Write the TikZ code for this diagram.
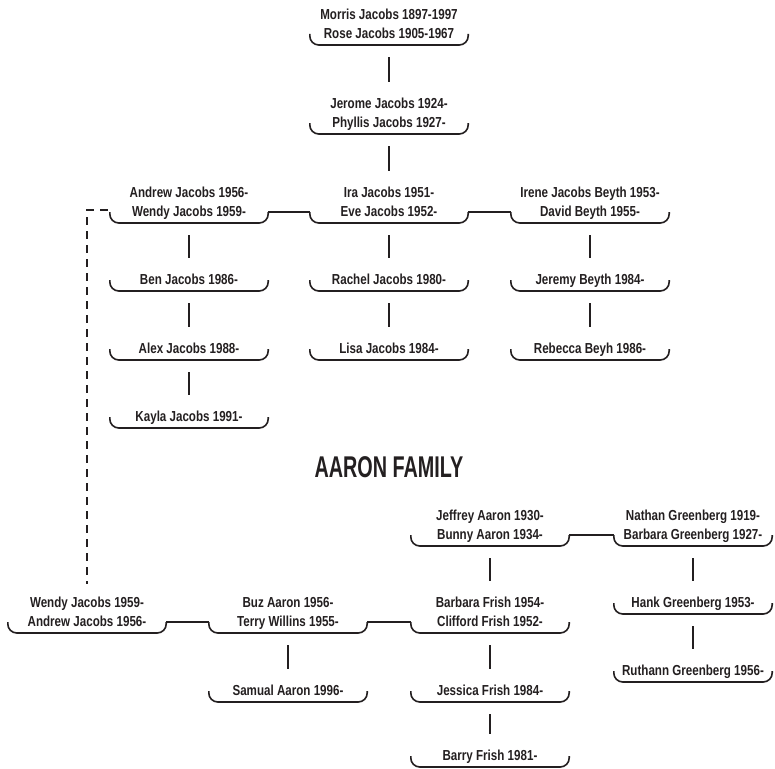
\documentclass[tikz,border=0pt]{standalone}
\usepackage{fontspec}
\setmainfont{Liberation Sans}[FakeStretch=0.8,UprightFont=* Bold]
\newfontfamily\titlefont{Liberation Sans Bold}[FakeStretch=0.66]
\usetikzlibrary{positioning}
\definecolor{TreeInk}{HTML}{231F20}

\begin{document}
\begin{tikzpicture}[
        x=1pt, y=1pt,
        font=\fontsize{14.5}{19}\selectfont,
        text=TreeInk,
        link/.style={draw=TreeInk, line width=1.6pt},
        person/.style={anchor=south, align=center, minimum width=158pt,
          inner xsep=0pt, inner ysep=3pt, text depth=3pt,
          append after command={\pgfextra{\let\pnode=\tikzlastnode
            \draw[link, rounded corners=9pt] ([yshift=11pt]\pnode.south west)
              |- (\pnode.south east) -- ([yshift=11pt]\pnode.south east);}}},
        child/.style={link, shorten <=12pt, shorten >=13pt},
        spouse/.style={link}
      ]
        \useasboundingbox (0,0) rectangle (775,-768);
        % Jacobs family
        \node[person] (morris) at (389,-45) {Morris Jacobs 1897-1997\\Rose Jacobs 1905-1967};
        \node[person] (jerome) at (389,-134) {Jerome Jacobs 1924-\\Phyllis Jacobs 1927-};
        \node[person] (andrew) at (189,-223) {Andrew Jacobs 1956-\\Wendy Jacobs 1959-};
        \node[person] (ira) at (389,-223) {Ira Jacobs 1951-\\Eve Jacobs 1952-};
        \node[person] (irene) at (590,-223) {Irene Jacobs Beyth 1953-\\David Beyth 1955-};
        \node[person] (ben) at (189,-291) {Ben Jacobs 1986-};
        \node[person] (rachel) at (389,-291) {Rachel Jacobs 1980-};
        \node[person] (jeremy) at (590,-291) {Jeremy Beyth 1984-};
        \node[person] (alex) at (189,-360) {Alex Jacobs 1988-};
        \node[person] (lisa) at (389,-360) {Lisa Jacobs 1984-};
        \node[person] (rebecca) at (590,-360) {Rebecca Beyh 1986-};
        \node[person] (kayla) at (189,-428) {Kayla Jacobs 1991-};
        \draw[child] (morris.south) -- (jerome.north);
        \draw[child] (jerome.south) -- (ira.north);
        \draw[spouse] ([yshift=11pt]andrew.south east) -- ([yshift=11pt]ira.south west);
        \draw[spouse] ([yshift=11pt]ira.south east) -- ([yshift=11pt]irene.south west);
        \draw[child] (andrew.south) -- (ben.north);
        \draw[child] (ben.south) -- (alex.north);
        \draw[child] (alex.south) -- (kayla.north);
        \draw[child] (ira.south) -- (rachel.north);
        \draw[child] (rachel.south) -- (lisa.north);
        \draw[child] (irene.south) -- (jeremy.north);
        \draw[child] (jeremy.south) -- (rebecca.north);

        \node[font=\titlefont\fontsize{30}{30}\selectfont] (title) at (389,-467) {AARON FAMILY};

        % Aaron family
        \node[person] (jeffrey) at (490,-546) {Jeffrey Aaron 1930-\\Bunny Aaron 1934-};
        \node[person] (nathan) at (693,-546) {Nathan Greenberg 1919-\\Barbara Greenberg 1927-};
        \node[person] (wendy) at (87,-633) {Wendy Jacobs 1959-\\Andrew Jacobs 1956-};
        \node[person] (buz) at (288,-633) {Buz Aaron 1956-\\Terry Willins 1955-};
        \node[person] (barbara) at (490,-633) {Barbara Frish 1954-\\Clifford Frish 1952-};
        \node[person] (hank) at (693,-614) {Hank Greenberg 1953-};
        \node[person] (samual) at (288,-702) {Samual Aaron 1996-};
        \node[person] (jessica) at (490,-702) {Jessica Frish 1984-};
        \node[person] (ruthann) at (693,-682) {Ruthann Greenberg 1956-};
        \node[person] (barry) at (490,-767) {Barry Frish 1981-};
        \draw[spouse] ([yshift=11pt]jeffrey.south east) -- ([yshift=11pt]nathan.south west);
        \draw[spouse] ([yshift=11pt]wendy.south east) -- ([yshift=11pt]buz.south west);
        \draw[spouse] ([yshift=11pt]buz.south east) -- ([yshift=11pt]barbara.south west);
        \draw[child] (jeffrey.south) -- (barbara.north);
        \draw[child] (nathan.south) -- (hank.north);
        \draw[child] (hank.south) -- (ruthann.north);
        \draw[child] (buz.south) -- (samual.north);
        \draw[child] (barbara.south) -- (jessica.north);
        \draw[child] (jessica.south) -- (barry.north);

        % same couple in both families
        \draw[link, dash pattern=on 8pt off 6pt] ([xshift=-2pt,yshift=13pt]andrew.south west)
          -| ([yshift=10pt]wendy.north);
      \end{tikzpicture}
\end{document}
